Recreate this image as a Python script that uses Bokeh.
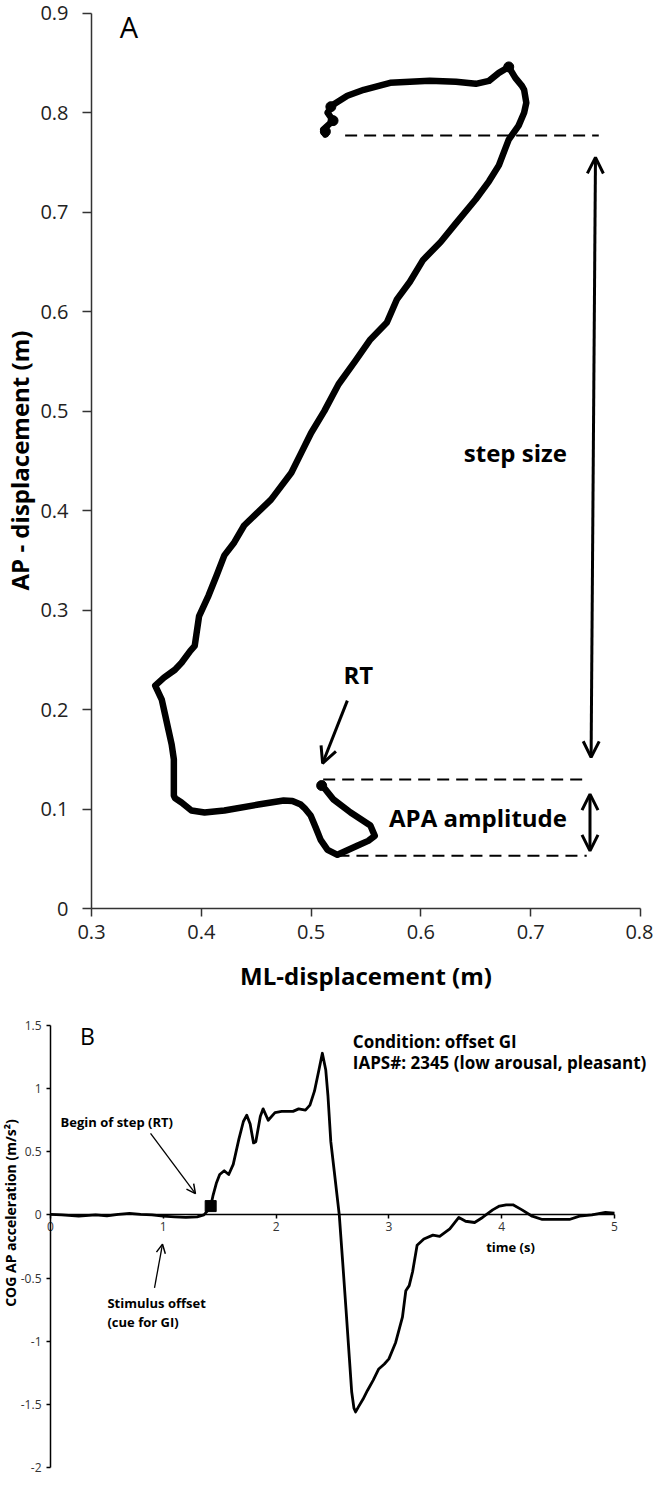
import math
from bokeh.plotting import figure
from bokeh.models import Arrow, OpenHead, Label, FixedTicker, Range1d, LinearAxis
from bokeh.embed import file_html
from bokeh.resources import INLINE

FONT = "Open Sans"

# ---------------- Panel A data: COP trajectory ----------------
ml_disp = [0.510, 0.520, 0.536, 0.554, 0.558, 0.552, 0.542, 0.530, 0.524, 0.515, 0.5087,
           0.504, 0.4996, 0.494, 0.4906, 0.483, 0.475, 0.452, 0.421, 0.403, 0.391, 0.382,
           0.376, 0.375, 0.375, 0.373, 0.370, 0.367, 0.364, 0.358, 0.366, 0.376, 0.382,
           0.390, 0.394, 0.398, 0.4066, 0.414, 0.421, 0.430, 0.439, 0.4635, 0.482, 0.491,
           0.500, 0.512, 0.525, 0.540, 0.554, 0.569, 0.578, 0.590, 0.602, 0.618, 0.632,
           0.650, 0.662, 0.671, 0.680, 0.689, 0.694, 0.696, 0.694, 0.692, 0.686, 0.680,
           0.671, 0.662, 0.650, 0.632, 0.608, 0.572, 0.548, 0.533, 0.520, 0.515, 0.520,
           0.511, 0.513]
ap_disp = [0.124, 0.110, 0.0965, 0.0834, 0.073, 0.068, 0.063, 0.057, 0.054, 0.059, 0.069,
           0.082, 0.0935, 0.101, 0.1045, 0.108, 0.1085, 0.1045, 0.0985, 0.0965, 0.0985, 0.1065,
           0.111, 0.1136, 0.150, 0.165, 0.180, 0.195, 0.210, 0.224, 0.232, 0.240, 0.247,
           0.259, 0.264, 0.294, 0.3146, 0.335, 0.355, 0.368, 0.385, 0.411, 0.438, 0.458,
           0.478, 0.500, 0.527, 0.550, 0.572, 0.589, 0.612, 0.630, 0.652, 0.670, 0.689,
           0.713, 0.731, 0.747, 0.773, 0.787, 0.800, 0.810, 0.823, 0.827, 0.835, 0.846,
           0.840, 0.832, 0.829, 0.831, 0.832, 0.830, 0.823, 0.817, 0.808, 0.800, 0.792,
           0.783, 0.778]
blob_ml = [0.5096, 0.513, 0.520, 0.518, 0.680]
blob_ap = [0.1236, 0.781, 0.792, 0.806, 0.846]

# dashed reference lines (step end, RT level, APA minimum)
dash_x0 = [0.531, 0.511, 0.524]
dash_x1 = [0.762, 0.748, 0.751]
dash_y = [0.777, 0.1296, 0.053]

a_xticks = [0.3, 0.4, 0.5, 0.6, 0.7, 0.8]
a_xlabels = ["0.3", "0.4", "0.5", "0.6", "0.7", "0.8"]
a_yticks = [0.0, 0.1, 0.2, 0.3, 0.4, 0.5, 0.6, 0.7, 0.8, 0.9]
a_ylabels = ["0", "0.1", "0.2", "0.3", "0.4", "0.5", "0.6", "0.7", "0.8", "0.9"]

# annotation anchors, panel A (data units)
step_arrow = [0.755, 0.152, 0.759, 0.755]
apa_arrow = [0.754, 0.058, 0.754, 0.115]
rt_arrow = [0.533, 0.209, 0.5105, 0.146]
a_texts = [("A", 0.334, 0.887, "29px", "normal", 0),
           ("step size", 0.686, 0.458, "24px", "bold", 0),
           ("APA amplitude", 0.652, 0.0915, "24px", "bold", 0),
           ("RT", 0.543, 0.235, "24px", "bold", 0),
           ("ML-displacement (m)", 0.55, -0.0673, "24px", "bold", 0),
           ("AP - displacement (m)", 0.2344, 0.4503, "24px", "bold", math.pi / 2)]

# ---------------- Panel B data: COG AP acceleration ----------------
time_s = [0.0, 0.1, 0.25, 0.4, 0.5, 0.6, 0.7, 0.8, 0.9, 1.0, 1.1, 1.2, 1.3, 1.36, 1.4, 1.42,
          1.44, 1.47, 1.50, 1.54, 1.58, 1.62, 1.67, 1.71, 1.74, 1.77, 1.80, 1.82, 1.86, 1.885,
          1.93, 1.99, 2.05, 2.15, 2.2, 2.26, 2.30, 2.34, 2.38, 2.41, 2.44, 2.46, 2.485, 2.515,
          2.56, 2.59, 2.62, 2.65, 2.67, 2.69, 2.705, 2.73, 2.77, 2.81, 2.86, 2.91, 2.96, 3.0,
          3.06, 3.12, 3.15, 3.18, 3.21, 3.25, 3.31, 3.39, 3.45, 3.54, 3.62, 3.68, 3.76, 3.83,
          3.92, 3.98, 4.04, 4.10, 4.18, 4.27, 4.36, 4.51, 4.60, 4.69, 4.80, 4.92, 5.0]
cog_acc = [0.005, 0.0, -0.01, 0.0, -0.008, 0.005, 0.012, 0.005, 0.0, -0.01, -0.015, -0.02,
           -0.015, 0.0, 0.04, 0.07, 0.15, 0.25, 0.32, 0.35, 0.32, 0.40, 0.60, 0.74, 0.79, 0.72,
           0.57, 0.58, 0.78, 0.84, 0.75, 0.81, 0.82, 0.82, 0.84, 0.83, 0.87, 0.98, 1.15, 1.28,
           1.15, 0.94, 0.58, 0.35, 0.0, -0.37, -0.75, -1.14, -1.40, -1.53, -1.56, -1.52, -1.46,
           -1.39, -1.31, -1.22, -1.18, -1.14, -1.01, -0.81, -0.60, -0.56, -0.45, -0.24, -0.19,
           -0.16, -0.17, -0.11, -0.02, -0.05, -0.06, -0.02, 0.04, 0.07, 0.08, 0.08, 0.04, -0.01,
           -0.036, -0.036, -0.036, -0.01, 0.0, 0.02, 0.015]
rt_time = [1.42]
rt_acc = [0.07]

b_xticks = [0, 1, 2, 3, 4, 5]
b_xlabels = ["0", "1", "2", "3", "4", "5"]
b_yticks = [-2.0, -1.5, -1.0, -0.5, 0.0, 0.5, 1.0, 1.5]
b_ylabels = ["-2", "-1.5", "-1", "-0.5", "0", "0.5", "1", "1.5"]

begin_arrow = [0.887, 0.646, 1.285, 0.169]
stim_arrow = [0.922, -0.577, 0.993, -0.231]
b_texts = [("B", 0.328, 1.415, "23px", "normal", "center", 0),
           ("Begin of step (RT)", 0.089, 0.738, "13px", "bold", "left", 0),
           ("Stimulus  offset", 0.505, -0.70, "13px", "bold", "left", 0),
           ("(cue for GI)", 0.505, -0.846, "13px", "bold", "left", 0),
           ("Condition: offset GI", 2.68, 1.377, "17px", "bold", "left", 0),
           ("IAPS#: 2345 (low arousal, pleasant)", 2.68, 1.208, "17px", "bold", "left", 0),
           ("time (s)", 4.078, -0.254, "13px", "bold", "center", 0),
           ("COG AP acceleration (m/s\u00b2)", -0.355, 0.015, "14px", "bold", "center",
            math.pi / 2)]

# ---------------- layout: one canvas, two panels mapped by their own ranges ----------------
W, H = 653, 1481
A_PX = (91, 640)      # canvas x of ML = 0.3 and 0.8
A_PY = (908, 12.7)    # canvas y of AP = 0 and 0.9
B_PX = (50, 614)      # canvas x of t = 0 and 5
B_PY = (1467, 1025)   # canvas y of acc = -2 and 1.5


def span(v0, v1, p0, p1, lo, hi):
    k = (v1 - v0) / (p1 - p0)
    return v0 + (lo - p0) * k, v0 + (hi - p0) * k


ax_r = span(0.3, 0.8, A_PX[0], A_PX[1], 0, W)
ay_r = span(0.0, 0.9, A_PY[0], A_PY[1], H, 0)
bx_r = span(0.0, 5.0, B_PX[0], B_PX[1], 0, W)
by_r = span(-2.0, 1.5, B_PY[0], B_PY[1], H, 0)

p = figure(width=W, height=H, x_range=Range1d(*ax_r), y_range=Range1d(*ay_r),
           x_axis_type=None, y_axis_type=None, output_backend="svg", toolbar_location=None,
           min_border_left=0, min_border_right=0, min_border_top=0, min_border_bottom=0)
p.extra_x_ranges = {"bx": Range1d(*bx_r)}
p.extra_y_ranges = {"by": Range1d(*by_r)}
p.grid.visible = False
p.outline_line_color = None


def add_axis(place, ticks, labels, loc, tick_out, size, standoff, xr="default", yr="default",
             color="#222222", line_color="#333333"):
    ax = LinearAxis(x_range_name=xr, y_range_name=yr, fixed_location=loc,
                    bounds=(min(ticks), max(ticks)), ticker=FixedTicker(ticks=ticks),
                    major_label_overrides=dict(zip(ticks, labels)))
    ax.minor_tick_line_color = None
    ax.major_tick_out = tick_out
    ax.major_tick_in = 0
    ax.axis_line_color = line_color
    ax.axis_line_width = 1.5
    ax.major_tick_line_color = line_color
    ax.major_tick_line_width = 1.5
    ax.major_label_text_font = FONT
    ax.major_label_text_font_size = size
    ax.major_label_text_color = color
    ax.major_label_standoff = standoff
    p.add_layout(ax, place)


# panel A axes
add_axis("below", a_xticks, a_xlabels, 0.0, 8, "20px", 8)
add_axis("left", a_yticks, a_ylabels, 0.3, 9, "20px", 14)
# panel B axes (x axis crosses at zero)
add_axis("below", b_xticks, b_xlabels, 0.0, 4, "12px", 3, "bx", "by", "#333333", "black")
add_axis("left", b_yticks, b_ylabels, 0.0, 4, "12px", 5, "bx", "by", "#333333", "black")

# ---- panel A marks ----
p.segment(x0=dash_x0, y0=dash_y, x1=dash_x1, y1=dash_y, line_color="black",
          line_width=2, line_dash="12 7")
p.line(ml_disp, ap_disp, line_color="black", line_width=6.5, line_cap="round",
       line_join="round")
p.scatter(blob_ml, blob_ap, size=10, color="black")

for (x0, y0, x1, y1), both in ((step_arrow, True), (apa_arrow, True), (rt_arrow, False)):
    p.add_layout(Arrow(x_start=x0, y_start=y0, x_end=x1, y_end=y1, line_width=3,
                       line_color="black",
                       end=OpenHead(size=16, line_width=3, line_color="black"),
                       start=OpenHead(size=16, line_width=3, line_color="black") if both else None))

for txt, x, y, size, style, ang in a_texts:
    p.add_layout(Label(x=x, y=y, text=txt, text_font=FONT, text_font_size=size,
                       text_font_style=style, text_align="center", text_baseline="middle",
                       text_color="black", angle=ang))

# ---- panel B marks ----
p.line(time_s, cog_acc, line_color="black", line_width=2.8, line_join="round",
       x_range_name="bx", y_range_name="by")
p.scatter(rt_time, rt_acc, marker="square", size=11, color="black",
          x_range_name="bx", y_range_name="by")

for x0, y0, x1, y1 in (begin_arrow, stim_arrow):
    p.add_layout(Arrow(x_start=x0, y_start=y0, x_end=x1, y_end=y1, line_width=1.3,
                       line_color="black", x_range_name="bx", y_range_name="by",
                       end=OpenHead(size=9, line_width=1.5, line_color="black")))

for txt, x, y, size, style, align, ang in b_texts:
    p.add_layout(Label(x=x, y=y, text=txt, text_font=FONT, text_font_size=size,
                       text_font_style=style, text_align=align, text_baseline="middle",
                       text_color="black", angle=ang, x_range_name="bx", y_range_name="by"))

open("out.html", "w").write(file_html(p, INLINE))
